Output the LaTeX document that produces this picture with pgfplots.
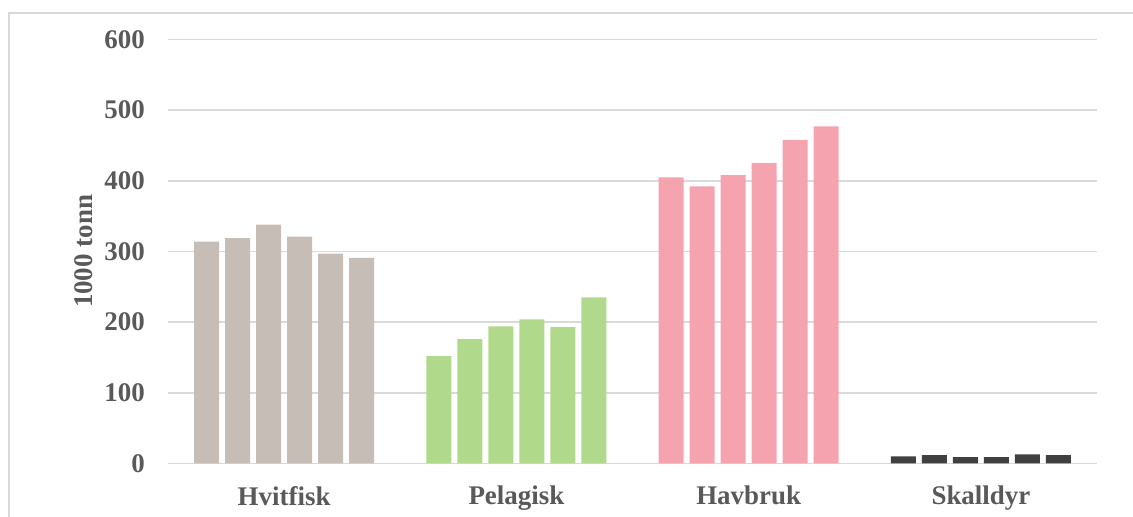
\documentclass[border=0pt]{standalone}
\usepackage{pgfplots}
\pgfplotsset{compat=1.18}
\usepackage{fontspec}
\setmainfont{Liberation Serif}

\definecolor{hvit}{HTML}{C6BDB6}
\definecolor{pel}{HTML}{B0D98C}
\definecolor{hav}{HTML}{F4A3AF}
\definecolor{skall}{HTML}{404040}
\definecolor{gridgray}{HTML}{D9D9D9}
\definecolor{txt}{HTML}{595959}

\begin{document}
\begin{tikzpicture}
% 1 px of the reference = 0.375bp
\useasboundingbox (0bp,0bp) rectangle (424.875bp,193.875bp);
% chart frame (only top and left edges are visible)
\draw[gridgray, line width=0.6bp] (3.375bp,0bp) -- (3.375bp,189bp) -- (424.875bp,189bp);
\begin{axis}[
    at={(63bp,20.06bp)}, anchor=south west,
    scale only axis,
    width=348.4bp, height=159bp,
    xmin=-0.5, xmax=3.5,
    ymin=0, ymax=600,
    ytick={0,100,...,600},
    xtick={0,1,2,3},
    xticklabels={Hvitfisk,Pelagisk,Havbruk,Skalldyr},
    ymajorgrids,
    grid style={gridgray, line width=0.6bp},
    axis line style={draw=none},
    major tick length=0pt,
    tick label style={font=\fontsize{10.1bp}{12bp}\selectfont\bfseries, text=txt},
    /pgf/number format/assume math mode=true,
    yticklabel style={xshift=-5.2bp},
    xticklabel style={yshift=-5bp},
    ylabel={1000 tonn},
    ylabel style={at={(axis description cs:-0.091,0.5)}, anchor=center,
        font=\fontsize{10.1bp}{12bp}\selectfont\bfseries, text=txt},
    clip=false,
]
% Hvitfisk
\addplot[ybar, bar shift=0pt, bar width=0.1076, fill=hvit, draw=none] coordinates {
    (-0.3335,314) (-0.2,319) (-0.0667,338) (0.0667,321) (0.2,297) (0.3335,291)
};
% Pelagisk
\addplot[ybar, bar shift=0pt, bar width=0.1076, fill=pel, draw=none] coordinates {
    (0.6665,152) (0.8,176) (0.9333,194) (1.0667,204) (1.2,193) (1.3335,235)
};
% Havbruk
\addplot[ybar, bar shift=0pt, bar width=0.1076, fill=hav, draw=none] coordinates {
    (1.6665,405) (1.8,392) (1.9333,408) (2.0667,425) (2.2,458) (2.3335,477)
};
% Skalldyr
\addplot[ybar, bar shift=0pt, bar width=0.1076, fill=skall, draw=none] coordinates {
    (2.6665,10) (2.8,12) (2.9333,9) (3.0667,9) (3.2,13) (3.3335,12)
};
\end{axis}
\end{tikzpicture}
\end{document}
